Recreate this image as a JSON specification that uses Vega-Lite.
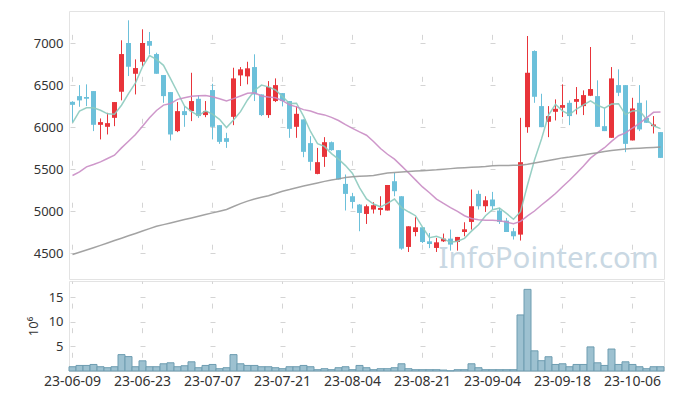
{
  "$schema": "https://vega.github.io/schema/vega-lite/v6.json",
  "padding": {"left": 26, "top": 10, "right": 5, "bottom": 5},
  "autosize": {"type": "pad"},
  "background": "white",
  "spacing": 0,
  "config": {
    "font": "Noto Sans",
    "view": {"stroke": "#e3e3e3"},
    "axis": {"labelFont": "Noto Sans", "labelFontSize": 13, "labelColor": "#333333", "domain": false, "ticks": false, "gridColor": "#d4d4d4", "gridWidth": 1, "titleFont": "Noto Sans", "titleFontWeight": "normal", "titleColor": "#333333", "titleFontSize": 13},
    "axisY": {"title": null, "format": "d"}
  },
  "data": {"values": [
    {"d":"23-06-09","o":6303,"h":6310,"l":6060,"c":6267,"v":0.87,"m5":6053,"m20":5425,"m60":4483},
    {"d":"23-06-12","o":6371,"h":6502,"l":6244,"c":6320,"v":1.13,"m5":6192,"m20":5468,"m60":4510},
    {"d":"23-06-13","o":6360,"h":6511,"l":6252,"c":6340,"v":1.13,"m5":6232,"m20":5528,"m60":4538},
    {"d":"23-06-14","o":6431,"h":6431,"l":5954,"c":6029,"v":1.33,"m5":6232,"m20":5556,"m60":4565},
    {"d":"23-06-15","o":6029,"h":6105,"l":5855,"c":6061,"v":0.87,"m5":6203,"m20":5588,"m60":4593},
    {"d":"23-06-16","o":6005,"h":6172,"l":5914,"c":6049,"v":0.67,"m5":6160,"m20":5628,"m60":4621},
    {"d":"23-06-19","o":6112,"h":6300,"l":6013,"c":6300,"v":0.87,"m5":6156,"m20":5667,"m60":4650},
    {"d":"23-06-20","o":6423,"h":7036,"l":6320,"c":6872,"v":3.33,"m5":6262,"m20":5754,"m60":4678},
    {"d":"23-06-21","o":7004,"h":7274,"l":6610,"c":6721,"v":2.93,"m5":6401,"m20":5834,"m60":4707},
    {"d":"23-06-22","o":6637,"h":6809,"l":6391,"c":6705,"v":0.87,"m5":6529,"m20":5914,"m60":4735},
    {"d":"23-06-23","o":6780,"h":7167,"l":6729,"c":7004,"v":2.07,"m5":6720,"m20":6013,"m60":4763},
    {"d":"23-06-26","o":7027,"h":7135,"l":6869,"c":6971,"v":0.87,"m5":6855,"m20":6112,"m60":4792},
    {"d":"23-06-27","o":6872,"h":6888,"l":6637,"c":6637,"v":0.87,"m5":6808,"m20":6200,"m60":4820},
    {"d":"23-06-28","o":6622,"h":6622,"l":6291,"c":6371,"v":1.47,"m5":6738,"m20":6264,"m60":4840},
    {"d":"23-06-29","o":6419,"h":6419,"l":5843,"c":5914,"v":1.67,"m5":6579,"m20":6282,"m60":4860},
    {"d":"23-06-30","o":5954,"h":6300,"l":5942,"c":6192,"v":0.87,"m5":6417,"m20":6332,"m60":4880},
    {"d":"23-07-03","o":6192,"h":6252,"l":6005,"c":6145,"v":1.07,"m5":6252,"m20":6351,"m60":4900},
    {"d":"23-07-04","o":6192,"h":6649,"l":6073,"c":6312,"v":1.87,"m5":6187,"m20":6368,"m60":4920},
    {"d":"23-07-05","o":6339,"h":6380,"l":6112,"c":6133,"v":0.67,"m5":6139,"m20":6375,"m60":4940},
    {"d":"23-07-06","o":6145,"h":6312,"l":6120,"c":6192,"v":1.13,"m5":6195,"m20":6377,"m60":4960},
    {"d":"23-07-07","o":6443,"h":6518,"l":5855,"c":6005,"v":1.33,"m5":6157,"m20":6364,"m60":4980},
    {"d":"23-07-10","o":6025,"h":6025,"l":5802,"c":5826,"v":0.47,"m5":6094,"m20":6339,"m60":5000},
    {"d":"23-07-11","o":5870,"h":5934,"l":5754,"c":5826,"v":0.67,"m5":5996,"m20":6313,"m60":5020},
    {"d":"23-07-12","o":6124,"h":6709,"l":6025,"c":6582,"v":3.33,"m5":6086,"m20":6341,"m60":5055},
    {"d":"23-07-13","o":6618,"h":6717,"l":6491,"c":6690,"v":1.47,"m5":6186,"m20":6372,"m60":5090},
    {"d":"23-07-14","o":6606,"h":6780,"l":6511,"c":6702,"v":1.13,"m5":6325,"m20":6405,"m60":5120},
    {"d":"23-07-17","o":6717,"h":6869,"l":6312,"c":6391,"v":1.13,"m5":6438,"m20":6410,"m60":5145},
    {"d":"23-07-18","o":6391,"h":6391,"l":6133,"c":6145,"v":0.87,"m5":6502,"m20":6373,"m60":5165},
    {"d":"23-07-19","o":6145,"h":6550,"l":6112,"c":6479,"v":0.87,"m5":6481,"m20":6361,"m60":5185},
    {"d":"23-07-20","o":6312,"h":6582,"l":6300,"c":6502,"v":0.67,"m5":6444,"m20":6351,"m60":5210},
    {"d":"23-07-21","o":6407,"h":6407,"l":6248,"c":6312,"v":0.47,"m5":6366,"m20":6316,"m60":5238},
    {"d":"23-07-24","o":6312,"h":6312,"l":5874,"c":5981,"v":0.87,"m5":6284,"m20":6267,"m60":5258},
    {"d":"23-07-25","o":6005,"h":6248,"l":5874,"c":6160,"v":0.87,"m5":6287,"m20":6243,"m60":5280},
    {"d":"23-07-26","o":6093,"h":6093,"l":5643,"c":5707,"v":1.13,"m5":6132,"m20":6210,"m60":5300},
    {"d":"23-07-27","o":5811,"h":5894,"l":5485,"c":5588,"v":0.87,"m5":5950,"m20":6194,"m60":5318},
    {"d":"23-07-28","o":5444,"h":5754,"l":5440,"c":5584,"v":0.27,"m5":5804,"m20":6163,"m60":5336},
    {"d":"23-07-31","o":5647,"h":5882,"l":5528,"c":5822,"v":0.47,"m5":5772,"m20":6147,"m60":5355},
    {"d":"23-08-01","o":5822,"h":5830,"l":5720,"c":5727,"v":0.27,"m5":5686,"m20":6118,"m60":5372},
    {"d":"23-08-02","o":5727,"h":5727,"l":5378,"c":5378,"v":0.67,"m5":5620,"m20":6080,"m60":5385},
    {"d":"23-08-03","o":5325,"h":5437,"l":5008,"c":5206,"v":0.87,"m5":5543,"m20":6031,"m60":5400},
    {"d":"23-08-04","o":5178,"h":5218,"l":5032,"c":5110,"v":0.27,"m5":5449,"m20":5986,"m60":5410},
    {"d":"23-08-07","o":5079,"h":5085,"l":4761,"c":4979,"v":1.13,"m5":5280,"m20":5944,"m60":5415},
    {"d":"23-08-08","o":4967,"h":5079,"l":4848,"c":5059,"v":0.67,"m5":5146,"m20":5905,"m60":5420},
    {"d":"23-08-09","o":5020,"h":5107,"l":4972,"c":5071,"v":0.27,"m5":5085,"m20":5830,"m60":5425},
    {"d":"23-08-10","o":5015,"h":5178,"l":4952,"c":5039,"v":0.47,"m5":5052,"m20":5747,"m60":5440},
    {"d":"23-08-11","o":5008,"h":5312,"l":5008,"c":5312,"v":0.47,"m5":5092,"m20":5678,"m60":5455},
    {"d":"23-08-14","o":5357,"h":5456,"l":5178,"c":5238,"v":0.67,"m5":5144,"m20":5620,"m60":5462},
    {"d":"23-08-16","o":5178,"h":5178,"l":4540,"c":4554,"v":1.47,"m5":5043,"m20":5540,"m60":5468},
    {"d":"23-08-17","o":4574,"h":4820,"l":4514,"c":4820,"v":0.47,"m5":4993,"m20":5457,"m60":5473},
    {"d":"23-08-18","o":4752,"h":4928,"l":4701,"c":4808,"v":0.27,"m5":4946,"m20":5373,"m60":5478},
    {"d":"23-08-21","o":4808,"h":4808,"l":4620,"c":4633,"v":0.27,"m5":4811,"m20":5289,"m60":5483},
    {"d":"23-08-22","o":4641,"h":4740,"l":4560,"c":4609,"v":0.27,"m5":4685,"m20":5220,"m60":5488},
    {"d":"23-08-23","o":4562,"h":4681,"l":4514,"c":4629,"v":0.27,"m5":4700,"m20":5144,"m60":5493},
    {"d":"23-08-24","o":4641,"h":4733,"l":4633,"c":4673,"v":0.2,"m5":4670,"m20":5092,"m60":5500},
    {"d":"23-08-25","o":4673,"h":4781,"l":4530,"c":4602,"v":0.05,"m5":4629,"m20":5043,"m60":5507},
    {"d":"23-08-28","o":4633,"h":4693,"l":4530,"c":4693,"v":0.27,"m5":4641,"m20":4998,"m60":5514},
    {"d":"23-08-29","o":4752,"h":4868,"l":4701,"c":4784,"v":0.27,"m5":4676,"m20":4946,"m60":5518},
    {"d":"23-08-30","o":4872,"h":5258,"l":4781,"c":5059,"v":1.47,"m5":4762,"m20":4913,"m60":5522},
    {"d":"23-08-31","o":5206,"h":5246,"l":5020,"c":5059,"v":0.67,"m5":4839,"m20":4897,"m60":5527},
    {"d":"23-09-01","o":5059,"h":5178,"l":4991,"c":5130,"v":0.27,"m5":4945,"m20":4893,"m60":5532},
    {"d":"23-09-04","o":5139,"h":5230,"l":5020,"c":5059,"v":0.27,"m5":5018,"m20":4891,"m60":5540},
    {"d":"23-09-05","o":5008,"h":5039,"l":4848,"c":4872,"v":0.27,"m5":5036,"m20":4885,"m60":5543},
    {"d":"23-09-06","o":4888,"h":4920,"l":4752,"c":4752,"v":0.27,"m5":4974,"m20":4870,"m60":5545},
    {"d":"23-09-07","o":4761,"h":4800,"l":4662,"c":4701,"v":0.27,"m5":4903,"m20":4851,"m60":5546},
    {"d":"23-09-08","o":4721,"h":6112,"l":4650,"c":5584,"v":11.4,"m5":4994,"m20":4879,"m60":5548},
    {"d":"23-09-11","o":6001,"h":7087,"l":5934,"c":6649,"v":16.6,"m5":5312,"m20":4945,"m60":5560},
    {"d":"23-09-12","o":6908,"h":6916,"l":6291,"c":6363,"v":4.1,"m5":5610,"m20":5002,"m60":5575},
    {"d":"23-09-13","o":6252,"h":6399,"l":6001,"c":6001,"v":2.1,"m5":5860,"m20":5074,"m60":5590},
    {"d":"23-09-14","o":6065,"h":6252,"l":5882,"c":6133,"v":2.9,"m5":6146,"m20":5140,"m60":5605},
    {"d":"23-09-15","o":6184,"h":6332,"l":6081,"c":6220,"v":1.33,"m5":6273,"m20":5210,"m60":5620},
    {"d":"23-09-18","o":6232,"h":6511,"l":6121,"c":6264,"v":1.47,"m5":6196,"m20":5292,"m60":5635},
    {"d":"23-09-19","o":6291,"h":6320,"l":6025,"c":6133,"v":0.87,"m5":6150,"m20":5368,"m60":5645},
    {"d":"23-09-20","o":6303,"h":6479,"l":6153,"c":6336,"v":1.33,"m5":6217,"m20":5453,"m60":5658},
    {"d":"23-09-21","o":6252,"h":6439,"l":6145,"c":6383,"v":1.33,"m5":6267,"m20":5539,"m60":5670},
    {"d":"23-09-22","o":6375,"h":6956,"l":6371,"c":6455,"v":4.9,"m5":6314,"m20":5632,"m60":5683},
    {"d":"23-09-25","o":6371,"h":6559,"l":6005,"c":6005,"v":1.67,"m5":6262,"m20":5697,"m60":5695},
    {"d":"23-09-26","o":6013,"h":6232,"l":5954,"c":5954,"v":1.13,"m5":6227,"m20":5756,"m60":5712},
    {"d":"23-09-27","o":5874,"h":6717,"l":5874,"c":6582,"v":4.47,"m5":6276,"m20":5832,"m60":5722},
    {"d":"23-10-04","o":6502,"h":6690,"l":6371,"c":6411,"v":1.33,"m5":6281,"m20":5899,"m60":5731},
    {"d":"23-10-05","o":6502,"h":6502,"l":5703,"c":5802,"v":1.87,"m5":6151,"m20":5933,"m60":5740},
    {"d":"23-10-06","o":5843,"h":6351,"l":5843,"c":6224,"v":1.33,"m5":6195,"m20":5991,"m60":5746},
    {"d":"23-10-10","o":6291,"h":6502,"l":5954,"c":5974,"v":0.87,"m5":6199,"m20":6046,"m60":5751},
    {"d":"23-10-11","o":6112,"h":6320,"l":6053,"c":6053,"v":0.47,"m5":6093,"m20":6111,"m60":5755},
    {"d":"23-10-12","o":6013,"h":6133,"l":5926,"c":6033,"v":0.87,"m5":6017,"m20":6178,"m60":5760},
    {"d":"23-10-13","o":5942,"h":5942,"l":5635,"c":5635,"v":0.87,"m5":5984,"m20":6181,"m60":5764}
  ]},
  "vconcat": [
    {
      "width": 595,
      "height": 268,
      "encoding": {
        "x": {
          "field": "d", "type": "ordinal",
          "scale": {"paddingInner": 0, "paddingOuter": 0},
          "axis": {"title": null, "labels": false, "orient": "bottom", "grid": true, "bandPosition": 0.5,
                   "values": ["23-06-09","23-06-23","23-07-07","23-07-21","23-08-04","23-08-21","23-09-04","23-09-18","23-10-06"],
                   "gridDash": [5, 36.97], "gridDashOffset": 18.62}
        }
      },
      "layer": [
        {
          "data": {"values": [{"t": "InfoPointer.com", "px": "23-09-14", "py": 4319}]},
          "mark": {"type": "text", "font": "Noto Sans", "fontSize": 29.5, "color": "#c9d8e3", "align": "center", "baseline": "alphabetic", "dx": 0},
          "encoding": {
            "x": {"field": "px", "type": "ordinal"},
            "y": {"field": "py", "type": "quantitative", "scale": {"domain": [4192, 7385], "zero": false, "nice": false},
                  "axis": {"title": null, "values": [4500, 5000, 5500, 6000, 6500, 7000], "grid": true, "gridDash": [5, 65], "gridDashOffset": 69, "labelPadding": 6}},
            "text": {"field": "t"}
          }
        },
        {
          "mark": {"type": "rule", "strokeWidth": 1},
          "encoding": {
            "y": {"field": "l", "type": "quantitative", "scale": {"domain": [4192, 7385], "zero": false, "nice": false},
                  "axis": {"title": null, "values": [4500, 5000, 5500, 6000, 6500, 7000], "grid": true, "gridDash": [5, 65], "gridDashOffset": 69, "labelPadding": 6}},
            "y2": {"field": "h"},
            "color": {"condition": {"test": "datum.c >= datum.o", "value": "#e8343a"}, "value": "#6cc0da"}
          }
        },
        {
          "mark": {"type": "bar", "width": {"band": 0.72}},
          "encoding": {
            "y": {"field": "o", "type": "quantitative", "scale": {"domain": [4192, 7385], "zero": false, "nice": false},
                  "axis": {"title": null, "values": [4500, 5000, 5500, 6000, 6500, 7000], "grid": true, "gridDash": [5, 65], "gridDashOffset": 69, "labelPadding": 6}},
            "y2": {"field": "c"},
            "color": {"condition": {"test": "datum.c >= datum.o", "value": "#e8343a"}, "value": "#6cc0da"}
          }
        },
        {
          "mark": {"type": "line", "color": "#8ccabe", "strokeWidth": 1.5, "opacity": 0.9},
          "encoding": {"y": {"field": "m5", "type": "quantitative", "scale": {"domain": [4192, 7385], "zero": false, "nice": false},
                  "axis": {"title": null, "values": [4500, 5000, 5500, 6000, 6500, 7000], "grid": true, "gridDash": [5, 65], "gridDashOffset": 69, "labelPadding": 6}}}
        },
        {
          "mark": {"type": "line", "color": "#c98cc4", "strokeWidth": 1.5, "opacity": 0.9},
          "encoding": {"y": {"field": "m20", "type": "quantitative", "scale": {"domain": [4192, 7385], "zero": false, "nice": false},
                  "axis": {"title": null, "values": [4500, 5000, 5500, 6000, 6500, 7000], "grid": true, "gridDash": [5, 65], "gridDashOffset": 69, "labelPadding": 6}}}
        },
        {
          "mark": {"type": "line", "color": "#999999", "strokeWidth": 1.5, "opacity": 0.9},
          "encoding": {"y": {"field": "m60", "type": "quantitative", "scale": {"domain": [4192, 7385], "zero": false, "nice": false},
                  "axis": {"title": null, "values": [4500, 5000, 5500, 6000, 6500, 7000], "grid": true, "gridDash": [5, 65], "gridDashOffset": 69, "labelPadding": 6}}}
        }
      ]
    },
    {
      "width": 595,
      "height": 90,
      "mark": {"type": "bar", "fill": "#9dc1d0", "stroke": "#6e9db1", "strokeWidth": 1, "width": {"band": 1}},
      "encoding": {
        "x": {
          "field": "d", "type": "ordinal",
          "scale": {"paddingInner": 0, "paddingOuter": 0},
          "axis": {"title": null, "labelAngle": 0, "labelFontSize": 14, "grid": true, "bandPosition": 0.5, "labelPadding": 3,
                   "values": ["23-06-09","23-06-23","23-07-07","23-07-21","23-08-04","23-08-21","23-09-04","23-09-18","23-10-06"],
                   "gridDash": [5, 19.59], "gridDashOffset": 2.5}
        },
        "y": {
          "field": "v", "type": "quantitative",
          "scale": {"domain": [0, 18.3], "nice": false},
          "axis": {"title": "10⁶", "values": [5, 10, 15], "grid": true, "gridDash": [5, 65], "gridDashOffset": 69, "labelPadding": 6, "titlePadding": 8}
        }
      }
    }
  ]
}
